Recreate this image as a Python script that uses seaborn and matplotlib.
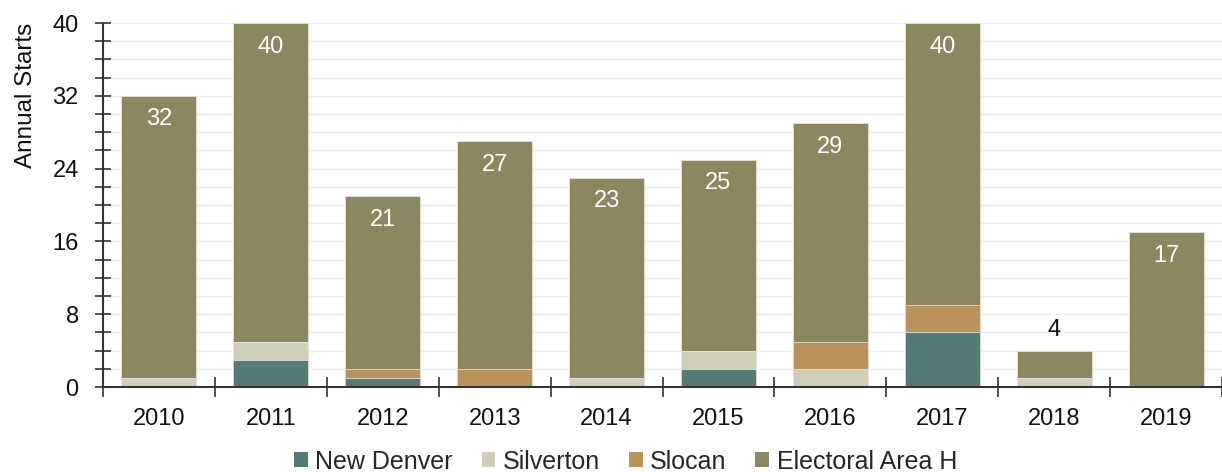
import numpy as np
import pandas as pd
import matplotlib
matplotlib.use("Agg")
import matplotlib.pyplot as plt
from matplotlib.ticker import MultipleLocator, FixedLocator
from matplotlib.patches import Patch
import seaborn as sns

years = ["2010", "2011", "2012", "2013", "2014", "2015", "2016", "2017", "2018", "2019"]
new_denver = [0, 3, 1, 0, 0, 2, 0, 6, 0, 0]
silverton = [1, 2, 0, 0, 1, 2, 2, 0, 1, 0]
slocan = [0, 0, 1, 2, 0, 0, 3, 3, 0, 0]
electoral_h = [31, 35, 19, 25, 22, 21, 24, 31, 3, 17]
series_names = ["New Denver", "Silverton", "Slocan", "Electoral Area H"]
colors = ["#567A76", "#D0CFBA", "#BA925C", "#8B885F"]

sns.set_theme(style="white")
plt.rcParams["font.family"] = ["Liberation Sans", "DejaVu Sans"]

df = pd.DataFrame({"year": years, "nd": new_denver, "sv": silverton,
                   "sl": slocan, "eh": electoral_h})
df["c1"] = df["nd"]
df["c2"] = df["c1"] + df["sv"]
df["c3"] = df["c2"] + df["sl"]
df["c4"] = df["c3"] + df["eh"]

fig = plt.figure(figsize=(12.22, 4.72), dpi=100)
ax = fig.add_axes([103 / 1222, 1 - 387 / 472, (1222 - 103) / 1222, (387 - 23) / 472])

for col, c in zip(["c4", "c3", "c2", "c1"], colors[::-1]):
    sns.barplot(data=df, x="year", y=col, color=c, saturation=1, width=0.67,
                ax=ax, edgecolor="#e9e9e2", linewidth=0.5, zorder=3)

ax.set_xlim(-0.5, 9.5)
ax.set_ylim(0, 40)
ax.yaxis.set_major_locator(MultipleLocator(8))
ax.yaxis.set_minor_locator(MultipleLocator(2))
ax.xaxis.set_major_locator(FixedLocator(np.arange(10)))
ax.xaxis.set_minor_locator(FixedLocator(np.arange(-0.5, 10, 1)))
ax.set_xticklabels(years)
ax.grid(which="both", axis="y", color="#efefef", linewidth=1, zorder=0)
ax.set_axisbelow(True)

for s in ["top", "right"]:
    ax.spines[s].set_visible(False)
for s in ["left", "bottom"]:
    ax.spines[s].set_color("#333333")
    ax.spines[s].set_linewidth(1.5)
    ax.spines[s].set_zorder(4)

ax.tick_params(axis="y", which="both", left=True, direction="inout", length=11, width=1.2,
               color="#333333", labelsize=17, labelcolor="#111111", pad=12)
ax.tick_params(axis="y", which="minor", labelleft=False)
ax.tick_params(axis="x", which="major", bottom=True, length=0, labelsize=17,
               labelcolor="#111111", pad=15)
ax.tick_params(axis="x", which="minor", bottom=True, direction="inout", length=15,
               width=1.2, color="#333333", labelbottom=False)
ax.set_xlabel("")
ax.set_ylabel("Annual Starts", fontsize=17.5, color="#111111", loc="top")
ax.yaxis.set_label_coords(-66 / 1119, 1.0)

for i, tot in enumerate(df["c4"]):
    if tot >= 8:
        ax.text(i, tot - 2.6, str(tot), ha="center", va="center", color="white",
                fontsize=17, zorder=5)
    else:
        ax.text(i, tot + 2.3, str(tot), ha="center", va="center", color="#111111",
                fontsize=17, zorder=5)

handles = [Patch(facecolor=c, edgecolor="none") for c in colors]
fig.legend(handles, series_names, loc="center", bbox_to_anchor=(0.512, 0.022),
           ncol=4, frameon=False, fontsize=18, handlelength=0.55, handleheight=0.55,
           handletextpad=0.3, columnspacing=1.15, borderaxespad=0)

fig.savefig("out.png", dpi=100)
